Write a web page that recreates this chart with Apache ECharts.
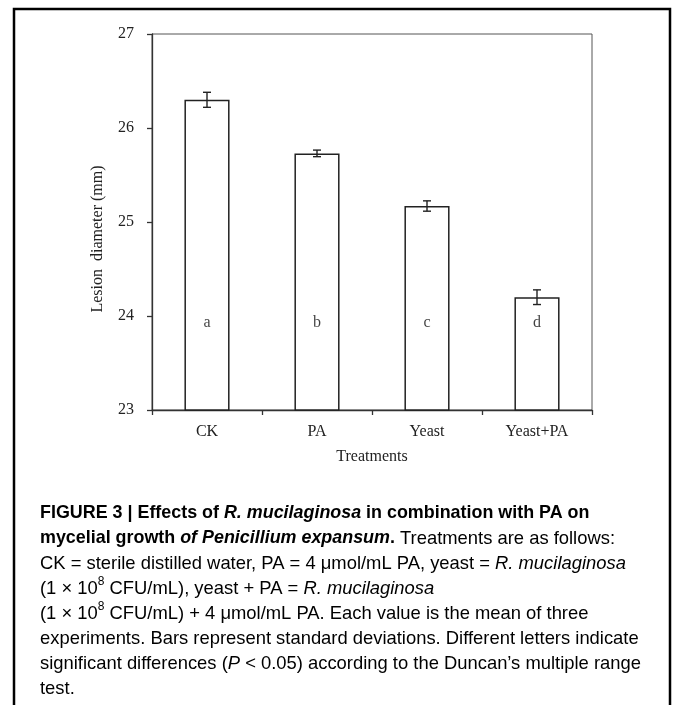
<!DOCTYPE html>
<html>
<head>
<meta charset="utf-8">
<script src="https://cdn.jsdelivr.net/npm/echarts@6/dist/echarts.min.js"></script>
<style>
html,body{margin:0;padding:0;background:#fff;}
#c{width:673px;height:705px;}
</style>
</head>
<body>
<div id="c"></div>
<script>
var categories = ['CK', 'PA', 'Yeast', 'Yeast+PA'];
var means = [26.30, 25.73, 25.17, 24.20];
var sds = [0.08, 0.035, 0.055, 0.078];
var letters = ['a', 'b', 'c', 'd'];
var yTicks = [23, 24, 25, 26, 27];

var LETTER_LEVEL = 23.93;
var serif = '"Liberation Serif", "DejaVu Serif", serif';
var sans = '"Liberation Sans", Arial, sans-serif';

var chart = echarts.init(document.getElementById('c'));

var FSN = 18.4, FSB = 17.9;
var capRich = {
  b: { fontFamily: sans, fontSize: FSB, fontWeight: 'bold', color: '#111', lineHeight: 25, verticalAlign: 'middle' },
  bi: { fontFamily: sans, fontSize: FSB, fontWeight: 'bold', fontStyle: 'italic', color: '#111', lineHeight: 25, verticalAlign: 'middle' },
  n: { fontFamily: sans, fontSize: FSN, color: '#383838', lineHeight: 25, verticalAlign: 'middle' },
  i: { fontFamily: sans, fontSize: FSN, fontStyle: 'italic', color: '#383838', lineHeight: 25, verticalAlign: 'middle' },
  s: { fontFamily: sans, fontSize: 12, color: '#383838', verticalAlign: 'top', lineHeight: 25, padding: [0, 0, 8, 0] }
};
var captionLines = [
  '{b|FIGURE 3 | Effects of }{bi|R. mucilaginosa}{b| in combination with PA on}',
  '{b|mycelial growth }{bi|of Penicillium expansum}{b|.}{n| Treatments are as follows:}',
  '{n|CK = sterile distilled water, PA = 4 \u03bcmol/mL PA, yeast = }{i|R. mucilaginosa}',
  '{n|(1 \u00d7 10}{s|8}{n| CFU/mL), yeast + PA = }{i|R. mucilaginosa}',
  '{n|(1 \u00d7 10}{s|8}{n| CFU/mL) + 4 \u03bcmol/mL PA. Each value is the mean of three}',
  '{n|experiments. Bars represent standard deviations. Different letters indicate}',
  '{n|significant differences (}{i|P}{n| < 0.05) according to the Duncan\u2019s multiple range}',
  '{n|test.}'
];
var graphics = [{
  type: 'polyline',
  shape: { points: [[14, 707], [14, 9], [670, 9], [670, 707]] },
  style: { stroke: '#000', lineWidth: 2.5, fill: null },
  silent: true
}];
captionLines.forEach(function (t, k) {
  graphics.push({
    type: 'text',
    left: 40,
    top: 501 + k * 25,
    style: { text: t, rich: capRich, fontFamily: sans, fontSize: FSN, lineHeight: 25 }
  });
});

var option = {
  backgroundColor: '#fff',
  animation: false,
  grid: {
    left: 152, top: 34, right: 81, bottom: 295,
    show: true, borderColor: '#555', borderWidth: 1, backgroundColor: 'transparent'
  },
  xAxis: {
    type: 'category',
    data: categories,
    name: 'Treatments',
    nameLocation: 'middle',
    nameGap: 39,
    nameTextStyle: { fontFamily: serif, fontSize: 16, color: '#222' },
    axisLine: { lineStyle: { color: '#333', width: 1.3 } },
    axisTick: { show: true, length: 5, lineStyle: { color: '#333', width: 1.3 } },
    axisLabel: { fontFamily: serif, fontSize: 16, color: '#222', margin: 14 },
    splitLine: { show: false }
  },
  yAxis: {
    type: 'value',
    min: 23, max: 27, interval: 1,
    name: 'Lesion  diameter (mm)',
    nameLocation: 'middle',
    nameGap: 46,
    nameTextStyle: { fontFamily: serif, fontSize: 16, color: '#222', padding: [0, 34, 0, 0] },
    axisLine: { show: true, lineStyle: { color: '#333', width: 1.3 } },
    axisTick: { show: true, length: 5, lineStyle: { color: '#333', width: 1.3 } },
    axisLabel: {
      fontFamily: serif, fontSize: 16, color: '#222', margin: 18,
      formatter: function (v) { return yTicks.indexOf(v) >= 0 ? String(v) : ''; }
    },
    splitLine: { show: false }
  },
  series: [
    {
      type: 'bar',
      data: means,
      barWidth: '41%',
      itemStyle: { color: '#fff', borderColor: '#222', borderWidth: 1.5 },
      z: 2
    },
    {
      type: 'custom',
      z: 5,
      data: means.map(function (m, i) { return [i, m - sds[i], m + sds[i]]; }),
      renderItem: function (params, api) {
        var lo = api.coord([api.value(0), api.value(1)]);
        var hi = api.coord([api.value(0), api.value(2)]);
        var cap = 4;
        var st = { stroke: '#222', lineWidth: 1.4 };
        return {
          type: 'group',
          children: [
            { type: 'line', shape: { x1: lo[0], y1: lo[1], x2: hi[0], y2: hi[1] }, style: st },
            { type: 'line', shape: { x1: lo[0] - cap, y1: lo[1], x2: lo[0] + cap, y2: lo[1] }, style: st },
            { type: 'line', shape: { x1: hi[0] - cap, y1: hi[1], x2: hi[0] + cap, y2: hi[1] }, style: st }
          ]
        };
      }
    },
    {
      type: 'scatter',
      symbolSize: 0,
      z: 6,
      data: letters.map(function (l, i) { return { value: [i, LETTER_LEVEL], name: l }; }),
      label: {
        show: true, position: 'inside',
        formatter: function (p) { return p.name; },
        fontFamily: serif, fontSize: 16, color: '#111', textBorderWidth: 0
      }
    }
  ],
  graphic: graphics
};
chart.setOption(option);
</script>
</body>
</html>
